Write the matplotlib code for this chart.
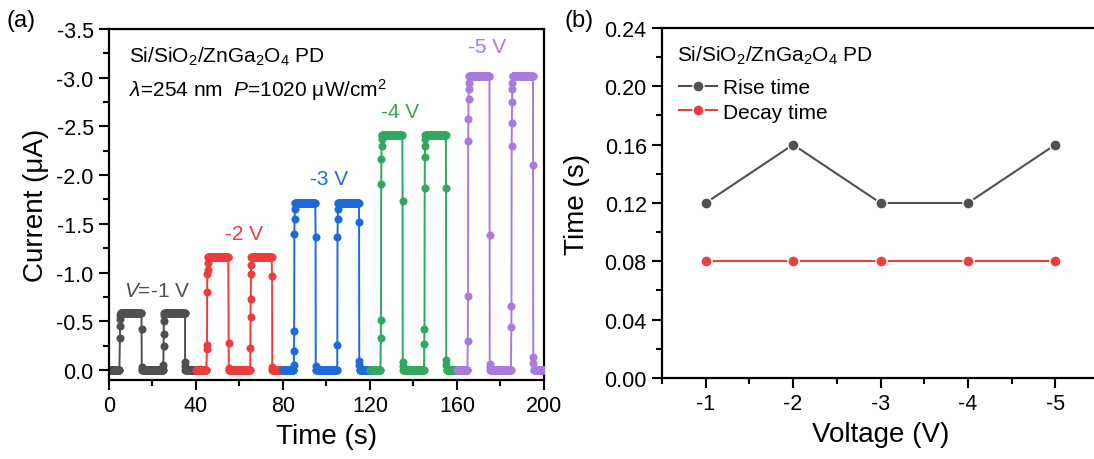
import numpy as np
import matplotlib.pyplot as plt
from matplotlib.ticker import MultipleLocator, FormatStrFormatter

plt.rcParams['font.family'] = ['Liberation Sans', 'DejaVu Sans']
plt.rcParams['axes.unicode_minus'] = False
plt.rcParams['mathtext.fontset'] = 'custom'
plt.rcParams['mathtext.rm'] = 'Liberation Sans'
plt.rcParams['mathtext.it'] = 'Liberation Sans:italic'

# ---- (a) transient photocurrent, one 40 s window per bias ----
bias_labels = ['-1 V', '-2 V', '-3 V', '-4 V', '-5 V']
bias_colors = ['#4f4f4f', '#ee3b3b', '#1c6bdc', '#30a85e', '#a97be0']
on_current = [-0.585, -1.16, -1.71, -2.41, -3.02]
dark_current = [0.0, 0.0, 0.0, 0.0, 0.0]
window_start = [0, 40, 80, 120, 160]
t_on = [[5, 25], [45, 65], [85, 105], [125, 145], [165, 185]]
t_off = [[15, 35], [55, 75], [95, 115], [135, 155], [175, 195]]
# intermediate points read on the rising / falling edges (uA)
rise_pts = [
    [[-0.33, -0.45, -0.52, -0.56], [-0.05, -0.25, -0.37, -0.50, -0.56]],
    [[-0.21, -0.26, -0.80, -0.98, -1.03, -1.10], [-0.23, -0.54, -0.73, -0.98, -1.08]],
    [[-0.05, -0.19, -0.40, -1.40, -1.55, -1.65], [-0.26, -1.36, -1.55, -1.65]],
    [[-0.33, -0.51, -1.91, -2.17, -2.30, -2.37], [-0.27, -0.42, -1.87, -2.19, -2.30, -2.37]],
    [[-0.30, -0.76, -2.35, -2.58, -2.78, -2.88, -2.95], [-0.44, -0.66, -2.30, -2.54, -2.75, -2.88, -2.95]],
]
decay_pts = [
    [[-0.42, -0.03], [-0.08, -0.04]],
    [[-0.28, -0.02], [-0.96, -0.03]],
    [[-1.36, -0.04], [-1.52, -0.09, -0.05]],
    [[-1.73, -0.08, -0.04], [-1.87, -0.10, -0.05]],
    [[-1.39, -0.06, -0.03], [-2.10, -0.13, -0.07]],
]
sample_dt = 0.2
edge_dt = 0.08

# ---- (b) response times ----
voltage = [-1, -2, -3, -4, -5]
rise_time = [0.12, 0.16, 0.12, 0.12, 0.16]
decay_time = [0.08, 0.08, 0.08, 0.08, 0.08]


def build_trace(k):
    ts, ys = [], []
    cur = window_start[k]
    for c in range(2):
        seg = np.arange(cur, t_on[k][c], sample_dt)
        ts += list(seg)
        ys += [dark_current[k]] * len(seg)
        r = rise_pts[k][c]
        ts += list(t_on[k][c] + edge_dt * np.arange(len(r)))
        ys += r
        seg = np.arange(t_on[k][c] + edge_dt * len(r), t_off[k][c], sample_dt)
        ts += list(seg)
        ys += [on_current[k]] * len(seg)
        d = decay_pts[k][c]
        ts += list(t_off[k][c] + edge_dt * np.arange(len(d)))
        ys += d
        cur = t_off[k][c] + edge_dt * len(d)
    seg = np.arange(cur, window_start[k] + 40, sample_dt)
    ts += list(seg)
    ys += [dark_current[k]] * len(seg)
    return np.array(ts), np.array(ys)


fig = plt.figure(figsize=(10.94, 4.6), dpi=100)
ax1 = fig.add_axes([0.0996, 0.1724, 0.3976, 0.7624])
ax2 = fig.add_axes([0.6051, 0.1761, 0.3995, 0.7609])

for k in range(len(bias_labels)):
    t, i = build_trace(k)
    ax1.plot(t, i, '-o', color=bias_colors[k], lw=1.4, ms=5.8, mew=0, zorder=2 + k)

ax1.set_xlim(0, 200)
ax1.set_ylim(0.1, -3.5)
ax1.xaxis.set_major_locator(MultipleLocator(40))
ax1.xaxis.set_minor_locator(MultipleLocator(20))
ax1.yaxis.set_major_locator(MultipleLocator(0.5))
ax1.yaxis.set_minor_locator(MultipleLocator(0.25))
ax1.yaxis.set_major_formatter(FormatStrFormatter('%.1f'))
ax1.set_xlabel('Time (s)', fontsize=20, labelpad=5)
ax1.set_ylabel('Current (μA)', fontsize=20, labelpad=5)

ax1.text(0.045, 0.955, 'Si/SiO$_2$/ZnGa$_2$O$_4$ PD', transform=ax1.transAxes,
         fontsize=15, va='top')
ax1.text(0.045, 0.865, r'$\lambda$=254 nm  $P$=1020 μW/cm$^2$', transform=ax1.transAxes,
         fontsize=15, va='top')
ax1.text(7, -0.82, '$V$=-1 V', color=bias_colors[0], fontsize=15, ha='left', va='center')
ax1.text(62, -1.4, '-2 V', color=bias_colors[1], fontsize=15, ha='center', va='center')
ax1.text(101, -1.97, '-3 V', color=bias_colors[2], fontsize=15, ha='center', va='center')
ax1.text(134, -2.65, '-4 V', color=bias_colors[3], fontsize=15, ha='center', va='center')
ax1.text(174, -3.32, '-5 V', color=bias_colors[4], fontsize=15, ha='center', va='center')

ax2.plot(voltage, rise_time, '-o', color='#505050', lw=1.5, ms=8, mec='white', mew=1,
         label='Rise time')
ax2.plot(voltage, decay_time, '-o', color='#ea3f3f', lw=1.5, ms=8, mec='white', mew=1,
         label='Decay time')
ax2.set_xlim(-0.5, -5.5)
ax2.set_ylim(0, 0.24)
ax2.xaxis.set_major_locator(MultipleLocator(1))
ax2.xaxis.set_minor_locator(MultipleLocator(0.5))
ax2.yaxis.set_major_locator(MultipleLocator(0.04))
ax2.yaxis.set_minor_locator(MultipleLocator(0.02))
ax2.yaxis.set_major_formatter(FormatStrFormatter('%.2f'))
ax2.xaxis.set_major_formatter(FormatStrFormatter('%d'))
ax2.set_xlabel('Voltage (V)', fontsize=20, labelpad=5)
ax2.set_ylabel('Time (s)', fontsize=20, labelpad=10)
ax2.text(0.035, 0.955, 'Si/SiO$_2$/ZnGa$_2$O$_4$ PD', transform=ax2.transAxes,
         fontsize=15, va='top')
ax2.legend(loc='upper left', bbox_to_anchor=(0.02, 0.88), frameon=False, fontsize=15,
           handlelength=1.8, handletextpad=0.3, labelspacing=0.25, borderaxespad=0)

for ax in (ax1, ax2):
    for s in ax.spines.values():
        s.set_linewidth(1.6)
    ax.tick_params(which='major', direction='out', length=7, width=1.5, labelsize=15.5, pad=4)
    ax.tick_params(which='minor', direction='out', length=4.5, width=1.5)

fig.text(0.006, 0.955, '(a)', fontsize=17, va='center')
fig.text(0.516, 0.955, '(b)', fontsize=17, va='center')

plt.savefig('out.png', dpi=100)
